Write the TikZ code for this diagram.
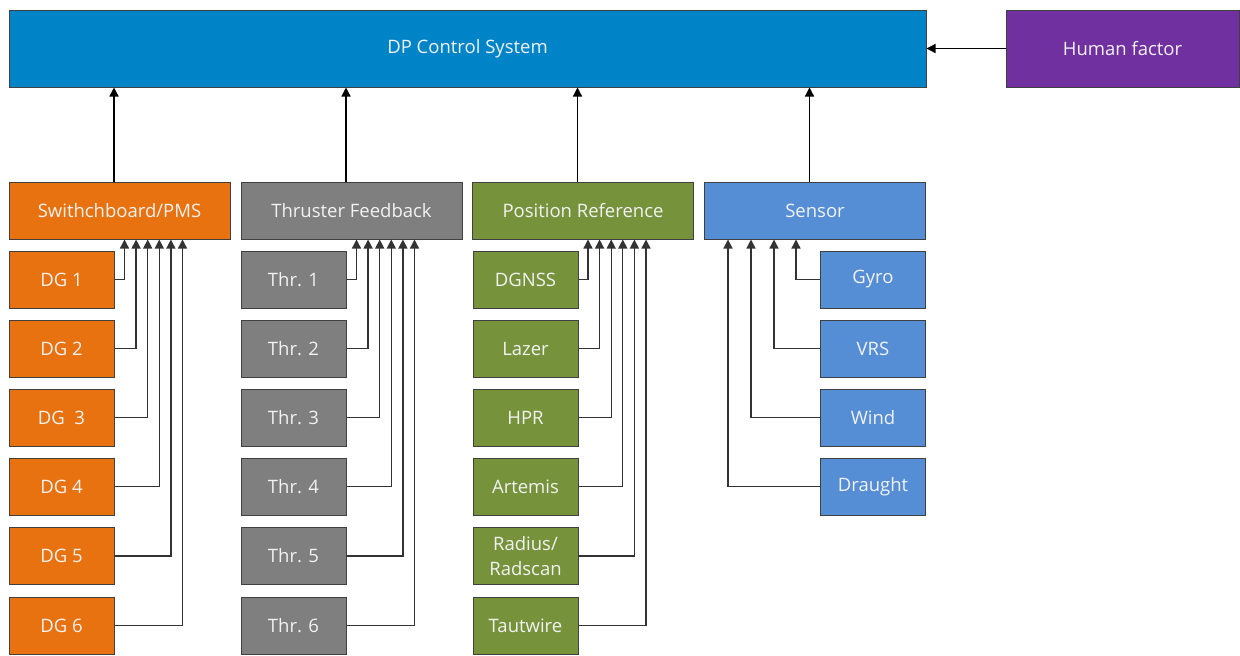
\documentclass[tikz,border=0pt]{standalone}
\usepackage{fontspec}
\setmainfont{Open Sans}
\usetikzlibrary{arrows.meta}
\definecolor{dpblue}{HTML}{0084C8}
\definecolor{hpurple}{HTML}{7030A0}
\definecolor{sorange}{HTML}{E8720F}
\definecolor{tgray}{HTML}{7F7F7F}
\definecolor{pgreen}{HTML}{76933C}
\definecolor{sblue}{HTML}{558ED5}
\definecolor{txt}{HTML}{F2F2F2}
\tikzset{
  box/.style={rectangle, draw=black!75, line width=1pt, inner sep=0pt, text=txt,
    font=\fontsize{18.5}{25}\selectfont, align=center},
  big/.style={box, minimum width=221pt, minimum height=57pt},
  small/.style={box, minimum width=105pt, minimum height=57pt},
  arr/.style={-{Triangle[length=9pt,width=9pt]}, line width=1.3pt, draw=black!80},
}
\begin{document}
\begin{tikzpicture}[x=1pt,y=-1pt]
\useasboundingbox (0,0) rectangle (1240,656);
% top row
\node[box, fill=dpblue, minimum width=917pt, minimum height=77pt] (dp) at (467.5,48.5) {DP Control System};
\node[box, fill=hpurple, minimum width=233pt, minimum height=77pt] (hf) at (1122.5,48.5) {Human factor};
% second row
\node[big, fill=sorange] (sw) at (119.5,210.5) {Swithchboard/PMS};
\node[big, fill=tgray] (tf) at (351.5,210.5) {Thruster Feedback};
\node[big, fill=pgreen] (pr) at (583,210.5) {Position Reference};
\node[big, fill=sblue] (se) at (815,210.5) {Sensor};
% children
\node[small, fill=sorange] (dg1) at (61.5,279.5) {DG 1};
\node[small, fill=sorange] (dg2) at (61.5,348.5) {DG 2};
\node[small, fill=sorange] (dg3) at (61.5,417.5) {DG\ \ 3};
\node[small, fill=sorange] (dg4) at (61.5,486.5) {DG 4};
\node[small, fill=sorange] (dg5) at (61.5,556) {DG 5};
\node[small, fill=sorange] (dg6) at (61.5,625.5) {DG 6};
\node[small, fill=tgray] (th1) at (293.5,279.5) {Thr. 1};
\node[small, fill=tgray] (th2) at (293.5,348.5) {Thr. 2};
\node[small, fill=tgray] (th3) at (293.5,417.5) {Thr. 3};
\node[small, fill=tgray] (th4) at (293.5,486.5) {Thr. 4};
\node[small, fill=tgray] (th5) at (293.5,556) {Thr. 5};
\node[small, fill=tgray] (th6) at (293.5,625.5) {Thr. 6};
\node[small, fill=pgreen] (p1) at (525.5,279.5) {DGNSS};
\node[small, fill=pgreen] (p2) at (525.5,348.5) {Lazer};
\node[small, fill=pgreen] (p3) at (525.5,417.5) {HPR};
\node[small, fill=pgreen] (p4) at (525.5,486.5) {Artemis};
\node[small, fill=pgreen] (p5) at (525.5,556) {Radius/\\Radscan};
\node[small, fill=pgreen] (p6) at (525.5,625.5) {Tautwire};
\node[small, fill=sblue] (s1) at (873,279.5) {Gyro};
\node[small, fill=sblue] (s2) at (873,348.5) {VRS};
\node[small, fill=sblue] (s3) at (873,417.5) {Wind};
\node[small, fill=sblue] (s4) at (873,486.5) {Draught};
% arrows to DP
\foreach \n in {sw,tf,pr,se}
  \draw[arr, draw=black] ([xshift=-5.5pt]\n.north) -- ([xshift=-5.5pt]\n.north |- dp.south);
\draw[arr, draw=black] (hf.west) -- (hf.west -| dp.east);
% bundles
\foreach \g/\p/\q in {sw/dg/116, tf/th/116, pr/p/116}{
  \draw[arr] (\p1.east) -| ([xshift=\q pt]\g.south west);
  \draw[arr] (\p2.east) -| ([xshift=\q pt+11.6pt]\g.south west);
  \draw[arr] (\p3.east) -| ([xshift=\q pt+23.2pt]\g.south west);
  \draw[arr] (\p4.east) -| ([xshift=\q pt+34.8pt]\g.south west);
  \draw[arr] (\p5.east) -| ([xshift=\q pt+46.4pt]\g.south west);
  \draw[arr] (\p6.east) -| ([xshift=\q pt+58pt]\g.south west);
}
\draw[arr] (s1.west) -| ([xshift=92pt]se.south west);
\draw[arr] (s2.west) -| ([xshift=70pt]se.south west);
\draw[arr] (s3.west) -| ([xshift=47pt]se.south west);
\draw[arr] (s4.west) -| ([xshift=24pt]se.south west);
\end{tikzpicture}
\end{document}
